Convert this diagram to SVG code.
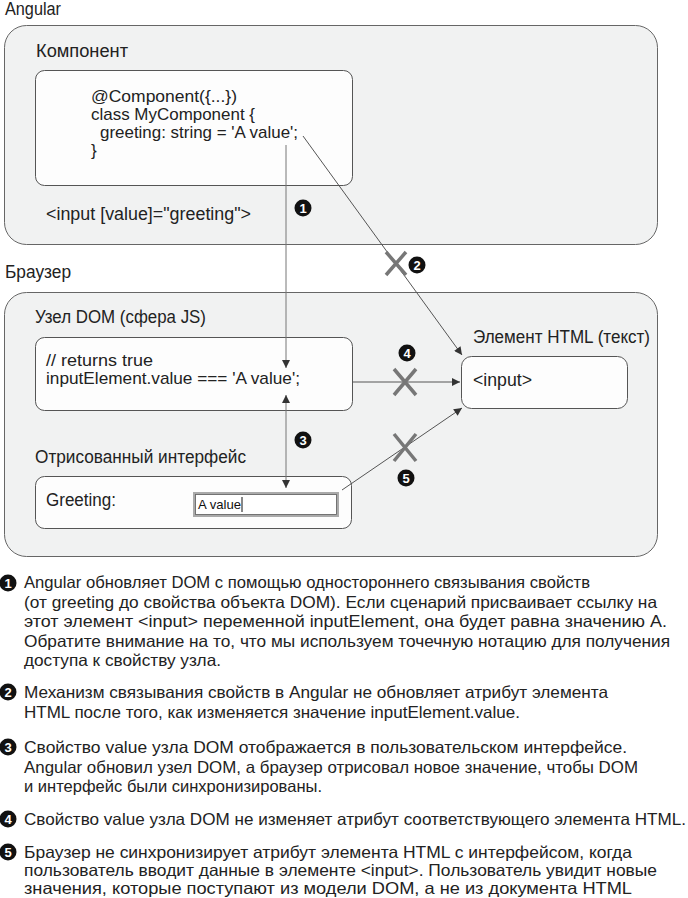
<svg xmlns="http://www.w3.org/2000/svg" width="688" height="898" viewBox="0 0 688 898">
<style>
  .t { font-family: "Liberation Sans", Arial, sans-serif; fill: #222; font-size: 17.5px; }
  .code { font-family: "Liberation Sans", Arial, sans-serif; fill: #222; font-size: 17px; }
  .note { font-family: "Liberation Sans", Arial, sans-serif; fill: #222; font-size: 16.5px; }
  .outer { fill: #f1f2f2; stroke: #666; stroke-width: 1; }
  .inner { fill: #fdfdfd; stroke: #555; stroke-width: 1; }
  .conn { stroke: #555; stroke-width: 1; fill: none; }
  .vconn { stroke: #777; stroke-width: 1; fill: none; }
  .xmark { stroke: #777; stroke-width: 3.5; stroke-linecap: butt; }
  .badge { fill: #111; }
  .bnum { font-family: "Liberation Sans", Arial, sans-serif; font-weight: bold; fill: #fff; font-size: 13px; text-anchor: middle; }
</style>
<defs>
  <marker id="ah" viewBox="0 0 10 10" refX="10" refY="5" markerWidth="10" markerHeight="8" markerUnits="userSpaceOnUse" orient="auto-start-reverse">
    <path d="M0,0 L10,5 L0,10 z" fill="#333"/>
  </marker>
</defs>

<!-- Angular container -->
<g id="angular">
  <text class="t" x="5" y="15" textLength="56" lengthAdjust="spacingAndGlyphs">Angular</text>
  <rect class="outer" x="4.5" y="25.5" width="653" height="219" rx="22"/>
  <text class="t" x="36" y="57" textLength="92" lengthAdjust="spacingAndGlyphs">Компонент</text>
  <text class="t" x="46" y="220" textLength="205" lengthAdjust="spacingAndGlyphs">&lt;input [value]="greeting"&gt;</text>
</g>
<g id="component">
  <rect class="inner" x="35.5" y="70.5" width="317" height="115" rx="9"/>
  <text class="code" x="91" y="102" textLength="146" lengthAdjust="spacingAndGlyphs">@Component({...})</text>
  <text class="code" x="91" y="120" textLength="164" lengthAdjust="spacingAndGlyphs">class MyComponent {</text>
  <text class="code" x="100" y="138" textLength="198" lengthAdjust="spacingAndGlyphs">greeting: string = 'A value';</text>
  <text class="code" x="91" y="156">}</text>
</g>

<!-- Browser container -->
<g id="browser">
  <text class="t" x="5" y="278" textLength="66" lengthAdjust="spacingAndGlyphs">Браузер</text>
  <rect class="outer" x="4.5" y="292.5" width="653" height="264" rx="22"/>
  <text class="t" x="35" y="323" textLength="171" lengthAdjust="spacingAndGlyphs">Узел DOM (сфера JS)</text>
  <text class="t" x="473" y="343" textLength="177" lengthAdjust="spacingAndGlyphs">Элемент HTML (текст)</text>
  <text class="t" x="35" y="463" textLength="211" lengthAdjust="spacingAndGlyphs">Отрисованный интерфейс</text>
</g>
<g id="dom-node">
  <rect class="inner" x="35.5" y="337.5" width="317" height="73" rx="9"/>
  <text class="code" x="46" y="366" textLength="107" lengthAdjust="spacingAndGlyphs">// returns true</text>
  <text class="code" x="46" y="384" textLength="254" lengthAdjust="spacingAndGlyphs">inputElement.value === 'A value';</text>
</g>
<g id="html-element">
  <rect class="inner" x="461.5" y="356.5" width="166" height="52" rx="10"/>
  <text class="t" x="473" y="386" textLength="59" lengthAdjust="spacingAndGlyphs">&lt;input&gt;</text>
</g>
<g id="rendered-ui">
  <rect class="inner" x="35.5" y="476.5" width="316" height="52" rx="9"/>
  <text class="t" x="46" y="506" textLength="70" lengthAdjust="spacingAndGlyphs">Greeting:</text>
  <rect x="194.5" y="493.5" width="143" height="22" fill="#fff" stroke="#aaa" stroke-width="3"/>
  <rect x="195.5" y="494.5" width="141" height="20" fill="none" stroke="#666" stroke-width="0.8"/>
  <text x="198" y="509" font-family="Liberation Sans, Arial, sans-serif" font-size="13.5" fill="#111" textLength="43" lengthAdjust="spacingAndGlyphs">A value</text>
  <line x1="242" y1="497" x2="242" y2="512" stroke="#111" stroke-width="1"/>
</g>

<!-- Connectors -->
<g id="connectors">
  <line class="vconn" x1="286" y1="145" x2="286" y2="368" marker-end="url(#ah)"/>
  <line class="vconn" x1="286" y1="395" x2="286" y2="488" marker-start="url(#ah)" marker-end="url(#ah)"/>
  <line class="conn" x1="303" y1="136" x2="462" y2="355" marker-end="url(#ah)"/>
  <line class="conn" x1="352" y1="382" x2="460" y2="382" marker-end="url(#ah)"/>
  <line class="conn" x1="342" y1="490" x2="462" y2="408" marker-end="url(#ah)"/>
  <!-- X marks -->
  <path class="xmark" d="M386,252 L406,275 M406,252 L386,275"/>
  <path class="xmark" d="M394,369 L416,395 M416,369 L394,395"/>
  <path class="xmark" d="M394,434 L416,461 M416,434 L394,461"/>
</g>

<!-- Badges in diagram -->
<g id="badges">
  <circle class="badge" cx="303" cy="208" r="8.5"/><text class="bnum" x="303" y="212.8">1</text>
  <circle class="badge" cx="417" cy="265" r="8.5"/><text class="bnum" x="417" y="269.8">2</text>
  <circle class="badge" cx="303" cy="440" r="8.5"/><text class="bnum" x="303" y="444.8">3</text>
  <circle class="badge" cx="407" cy="353" r="8.5"/><text class="bnum" x="407" y="357.8">4</text>
  <circle class="badge" cx="406" cy="478" r="8.5"/><text class="bnum" x="406" y="482.8">5</text>
</g>

<!-- Notes -->
<g id="notes">
  <circle class="badge" cx="8" cy="583" r="8.5"/><text class="bnum" x="8" y="587.8">1</text>
  <text class="note" x="24" y="588" textLength="566" lengthAdjust="spacingAndGlyphs">Angular обновляет DOM с помощью одностороннего связывания свойств</text>
  <text class="note" x="24" y="607.5" textLength="633" lengthAdjust="spacingAndGlyphs">(от greeting до свойства объекта DOM). Если сценарий присваивает ссылку на</text>
  <text class="note" x="24" y="627" textLength="643" lengthAdjust="spacingAndGlyphs">этот элемент &lt;input&gt; переменной inputElement, она будет равна значению A.</text>
  <text class="note" x="24" y="646.5" textLength="646" lengthAdjust="spacingAndGlyphs">Обратите внимание на то, что мы используем точечную нотацию для получения</text>
  <text class="note" x="24" y="666" textLength="197" lengthAdjust="spacingAndGlyphs">доступа к свойству узла.</text>

  <circle class="badge" cx="8" cy="692" r="8.5"/><text class="bnum" x="8" y="696.8">2</text>
  <text class="note" x="24" y="698" textLength="584" lengthAdjust="spacingAndGlyphs">Механизм связывания свойств в Angular не обновляет атрибут элемента</text>
  <text class="note" x="24" y="718" textLength="496" lengthAdjust="spacingAndGlyphs">HTML после того, как изменяется значение inputElement.value.</text>

  <circle class="badge" cx="8" cy="747" r="8.5"/><text class="bnum" x="8" y="751.8">3</text>
  <text class="note" x="24" y="753" textLength="603" lengthAdjust="spacingAndGlyphs">Свойство value узла DOM отображается в пользовательском интерфейсе.</text>
  <text class="note" x="24" y="772.5" textLength="614" lengthAdjust="spacingAndGlyphs">Angular обновил узел DOM, а браузер отрисовал новое значение, чтобы DOM</text>
  <text class="note" x="24" y="792" textLength="298" lengthAdjust="spacingAndGlyphs">и интерфейс были синхронизированы.</text>

  <circle class="badge" cx="8" cy="819" r="8.5"/><text class="bnum" x="8" y="823.8">4</text>
  <text class="note" x="24" y="825" textLength="662" lengthAdjust="spacingAndGlyphs">Свойство value узла DOM не изменяет атрибут соответствующего элемента HTML.</text>

  <circle class="badge" cx="8" cy="852" r="8.5"/><text class="bnum" x="8" y="856.8">5</text>
  <text class="note" x="24" y="857.5" textLength="608" lengthAdjust="spacingAndGlyphs">Браузер не синхронизирует атрибут элемента HTML с интерфейсом, когда</text>
  <text class="note" x="24" y="875.5" textLength="633" lengthAdjust="spacingAndGlyphs">пользователь вводит данные в элементе &lt;input&gt;. Пользователь увидит новые</text>
  <text class="note" x="24" y="893.5" textLength="608" lengthAdjust="spacingAndGlyphs">значения, которые поступают из модели DOM, а не из документа HTML</text>
</g>
</svg>
